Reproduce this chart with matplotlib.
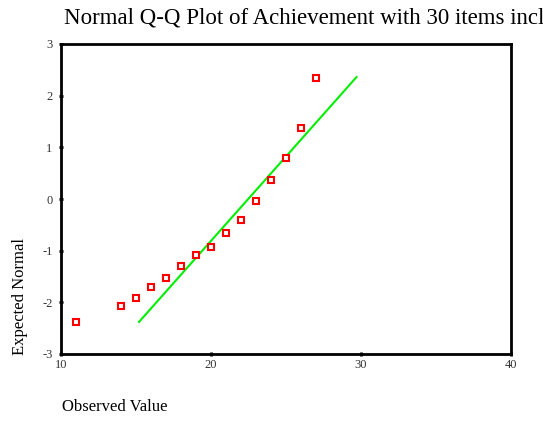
import numpy as np
import matplotlib
matplotlib.use("Agg")
import matplotlib.pyplot as plt

# observed scores and their expected normal values
observed = [11, 14, 15, 16, 17, 18, 19, 20, 21, 22, 23, 24, 25, 26, 27]
expected = [-2.38, -2.07, -1.91, -1.70, -1.53, -1.30, -1.08, -0.93, -0.66, -0.41, -0.04, 0.37, 0.79, 1.37, 2.34]

# reference line ends
line_x = [15.2, 29.7]
line_y = [-2.38, 2.36]

xticks = [10, 20, 30, 40]
yticks = [-3, -2, -1, 0, 1, 2, 3]

plt.rcParams['font.family'] = ['Liberation Serif', 'DejaVu Serif']
plt.rcParams['axes.unicode_minus'] = False

fig = plt.figure(figsize=(5.43, 4.21), dpi=100)
ax = fig.add_axes([61 / 543, 1 - 354 / 421, 450 / 543, 310 / 421])

ax.plot(line_x, line_y, color='#00ee00', linewidth=1.5, zorder=2)
ax.plot(observed, expected, linestyle='none', marker='s', markersize=5,
        markerfacecolor='white', markeredgecolor='red', markeredgewidth=1.5, zorder=3)

ax.set_xlim(10, 40)
ax.set_ylim(-3, 3)
ax.set_xticks(xticks)
ax.set_yticks(yticks)
ax.tick_params(direction='inout', length=3, width=2, labelsize=9, colors='black',
               labelcolor='#333333')
ax.tick_params(axis='x', pad=2)
ax.tick_params(axis='y', pad=4.5)
for s in ax.spines.values():
    s.set_linewidth(2)

# the title runs past the right edge in the original as well
fig.text(64 / 543, 1 - 18 / 421, "Normal Q-Q Plot of Achievement with 30 items included",
         fontsize=16.5, va='center', ha='left')
fig.text(62 / 543, 1 - 407 / 421, "Observed Value", fontsize=12, va='center', ha='left')
fig.text(20 / 543, 1 - 355 / 421, "Expected Normal", fontsize=12, rotation=90,
         va='bottom', ha='center')

fig.savefig("out.png", dpi=100)
